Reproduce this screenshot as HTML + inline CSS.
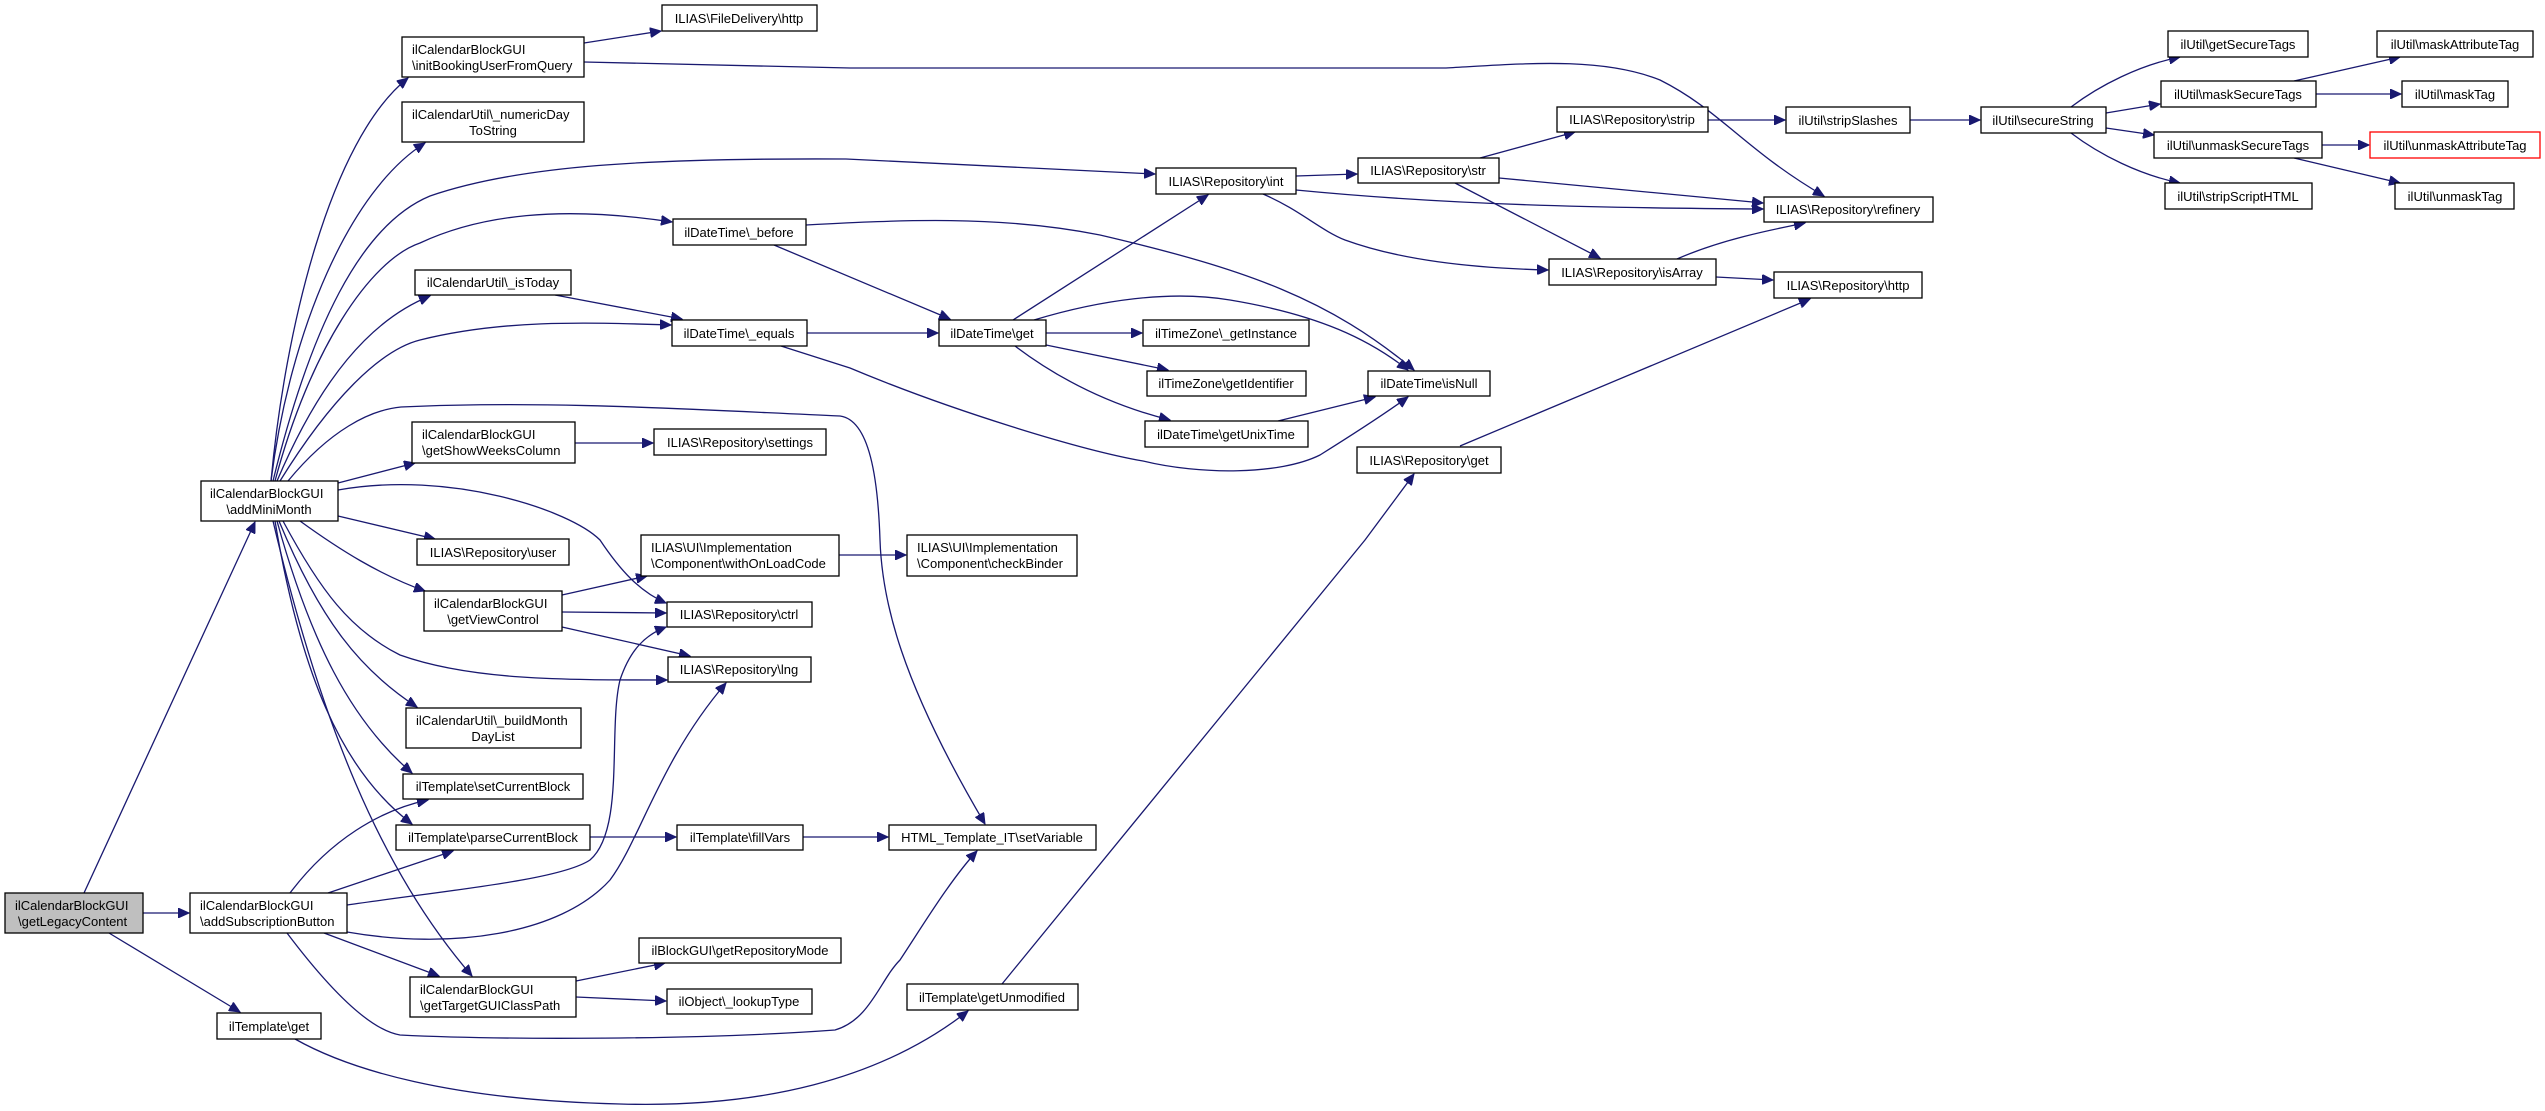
<!DOCTYPE html>
<html><head><meta charset="utf-8"><style>
html,body{margin:0;padding:0;background:#fff;}
svg{display:block;}
text{font-family:"Liberation Sans",sans-serif;font-size:13px;fill:#000;}
.n{fill:#fff;stroke:#000;stroke-width:1.3;}
.e{fill:none;stroke:#191970;stroke-width:1.3;marker-end:url(#ah);}
</style></head><body>
<svg width="2545" height="1111" viewBox="0 0 2545 1111" xmlns="http://www.w3.org/2000/svg">
<defs><marker id="ah" markerUnits="userSpaceOnUse" markerWidth="12" markerHeight="10" refX="11" refY="5" orient="auto"><path d="M0,0 L11,5 L0,10 z" fill="#191970" stroke="#191970"/></marker></defs>
<!-- edges -->
<path class="e" d="M84,893 L255,522"/>
<path class="e" d="M143,913 L189,913"/>
<path class="e" d="M109,933 L240,1012"/>
<path class="e" d="M295,1039 C350,1070 450,1100 620,1104 C760,1108 880,1080 968,1011"/>
<path class="e" d="M271,481 C285,330 330,140 408,78"/>
<path class="e" d="M271,481 C290,330 350,190 425,143"/>
<path class="e" d="M273,481 C310,330 360,225 430,196 C520,165 650,158 846,159 L1155,174"/>
<path class="e" d="M275,481 C310,350 370,260 420,243 C480,215 560,205 672,222"/>
<path class="e" d="M277,481 C320,380 370,320 430,296"/>
<path class="e" d="M280,481 C330,400 380,350 420,340 C500,320 580,322 671,325"/>
<path class="e" d="M288,481 C330,430 370,410 401,407 C550,400 700,410 840,416 C870,420 878,480 880,540 C882,600 900,680 985,824"/>
<path class="e" d="M338,483 L415,463"/>
<path class="e" d="M338,490 C450,470 570,510 600,540 C620,570 640,592 666,603"/>
<path class="e" d="M338,516 L435,539"/>
<path class="e" d="M300,521 C340,550 380,575 425,591"/>
<path class="e" d="M283,521 C320,590 350,630 400,655 C470,680 560,680 667,680"/>
<path class="e" d="M279,521 C320,620 360,670 417,707"/>
<path class="e" d="M277,521 C310,640 350,720 412,773"/>
<path class="e" d="M275,521 C300,670 340,770 412,824"/>
<path class="e" d="M273,521 C320,720 380,870 472,976"/>
<path class="e" d="M290,893 C330,840 380,810 428,800"/>
<path class="e" d="M328,893 L453,851"/>
<path class="e" d="M347,905 C450,890 560,880 590,860 C625,830 608,730 620,680 C630,650 645,635 666,627"/>
<path class="e" d="M347,932 C450,950 560,935 610,880 C640,840 660,760 726,683"/>
<path class="e" d="M324,933 L439,976"/>
<path class="e" d="M287,933 C330,990 370,1030 400,1035 C500,1040 700,1040 835,1030 C870,1020 880,980 900,960 C920,930 950,880 977,851"/>
<path class="e" d="M562,595 L647,576"/>
<path class="e" d="M562,612 L666,613"/>
<path class="e" d="M562,627 L690,656"/>
<path class="e" d="M575,443 L653,443"/>
<path class="e" d="M555,295 L682,319"/>
<path class="e" d="M774,245 L950,319"/>
<path class="e" d="M806,225 C900,220 1000,215 1100,235 C1250,270 1330,300 1414,370"/>
<path class="e" d="M807,333 L938,333"/>
<path class="e" d="M781,346 L850,368 C950,410 1080,450 1143,461 C1200,475 1280,475 1320,455 C1360,430 1390,410 1408,397"/>
<path class="e" d="M584,43 L661,31"/>
<path class="e" d="M584,62 L850,68 L1446,68 C1520,64 1600,56 1660,80 C1720,110 1745,150 1824,196"/>
<path class="e" d="M1296,176 L1357,174"/>
<path class="e" d="M1296,190 C1450,205 1600,208 1763,209"/>
<path class="e" d="M1263,194 C1300,210 1320,230 1345,240 C1400,260 1470,268 1548,270"/>
<path class="e" d="M1480,158 L1575,132"/>
<path class="e" d="M1499,178 L1763,203"/>
<path class="e" d="M1455,183 L1600,258"/>
<path class="e" d="M1708,120 L1785,120"/>
<path class="e" d="M1910,120 L1980,120"/>
<path class="e" d="M1677,259 C1720,240 1770,230 1805,223"/>
<path class="e" d="M1716,277 L1773,280"/>
<path class="e" d="M1460,446 L1810,299"/>
<path class="e" d="M1002,984 L1365,540 L1414,474"/>
<path class="e" d="M1013,320 L1208,195"/>
<path class="e" d="M1034,320 C1100,300 1170,290 1230,300 C1320,315 1370,340 1408,370"/>
<path class="e" d="M1046,333 L1142,333"/>
<path class="e" d="M1046,345 L1168,370"/>
<path class="e" d="M1015,346 C1060,380 1110,405 1170,420"/>
<path class="e" d="M1278,421 L1375,397"/>
<path class="e" d="M839,555 L906,555"/>
<path class="e" d="M590,837 L676,837"/>
<path class="e" d="M803,837 L888,837"/>
<path class="e" d="M576,981 L665,963"/>
<path class="e" d="M576,997 L666,1001"/>
<path class="e" d="M2071,107 C2100,85 2140,65 2180,57"/>
<path class="e" d="M2106,113 L2160,104"/>
<path class="e" d="M2106,128 L2154,135"/>
<path class="e" d="M2071,133 C2100,155 2140,175 2180,183"/>
<path class="e" d="M2294,81 L2400,57"/>
<path class="e" d="M2316,94 L2401,94"/>
<path class="e" d="M2322,145 L2369,145"/>
<path class="e" d="M2294,158 L2400,183"/>
<!-- nodes -->
<rect x="5" y="893" width="138" height="40" fill="#bfbfbf" stroke="#000" stroke-width="1.3"/><text x="15" y="910">ilCalendarBlockGUI</text><text x="18" y="926">\getLegacyContent</text>
<rect class="n" x="201" y="481" width="137" height="40"/><text x="210" y="498">ilCalendarBlockGUI</text><text x="269" y="514" text-anchor="middle">\addMiniMonth</text>
<rect class="n" x="190" y="893" width="157" height="40"/><text x="200" y="910">ilCalendarBlockGUI</text><text x="200" y="926">\addSubscriptionButton</text>
<rect class="n" x="217" y="1013" width="104" height="26"/><text x="269" y="1031" text-anchor="middle">ilTemplate\get</text>
<rect class="n" x="402" y="37" width="182" height="40"/><text x="412" y="54">ilCalendarBlockGUI</text><text x="412" y="70">\initBookingUserFromQuery</text>
<rect class="n" x="402" y="102" width="182" height="40"/><text x="412" y="119">ilCalendarUtil\_numericDay</text><text x="493" y="135" text-anchor="middle">ToString</text>
<rect class="n" x="673" y="219" width="133" height="26"/><text x="739" y="237" text-anchor="middle">ilDateTime\_before</text>
<rect class="n" x="415" y="270" width="156" height="25"/><text x="493" y="287" text-anchor="middle">ilCalendarUtil\_isToday</text>
<rect class="n" x="672" y="320" width="135" height="26"/><text x="739" y="338" text-anchor="middle">ilDateTime\_equals</text>
<rect class="n" x="412" y="422" width="163" height="41"/><text x="422" y="439">ilCalendarBlockGUI</text><text x="422" y="455">\getShowWeeksColumn</text>
<rect class="n" x="654" y="429" width="172" height="26"/><text x="740" y="447" text-anchor="middle">ILIAS\Repository\settings</text>
<rect class="n" x="417" y="539" width="152" height="26"/><text x="493" y="557" text-anchor="middle">ILIAS\Repository\user</text>
<rect class="n" x="641" y="535" width="198" height="41"/><text x="651" y="552">ILIAS\UI\Implementation</text><text x="651" y="568">\Component\withOnLoadCode</text>
<rect class="n" x="424" y="591" width="138" height="40"/><text x="434" y="608">ilCalendarBlockGUI</text><text x="493" y="624" text-anchor="middle">\getViewControl</text>
<rect class="n" x="667" y="602" width="145" height="25"/><text x="739" y="619" text-anchor="middle">ILIAS\Repository\ctrl</text>
<rect class="n" x="668" y="657" width="143" height="25"/><text x="739" y="674" text-anchor="middle">ILIAS\Repository\lng</text>
<rect class="n" x="406" y="708" width="175" height="40"/><text x="416" y="725">ilCalendarUtil\_buildMonth</text><text x="493" y="741" text-anchor="middle">DayList</text>
<rect class="n" x="403" y="774" width="180" height="25"/><text x="493" y="791" text-anchor="middle">ilTemplate\setCurrentBlock</text>
<rect class="n" x="396" y="825" width="194" height="25"/><text x="493" y="842" text-anchor="middle">ilTemplate\parseCurrentBlock</text>
<rect class="n" x="677" y="825" width="126" height="25"/><text x="740" y="842" text-anchor="middle">ilTemplate\fillVars</text>
<rect class="n" x="639" y="938" width="202" height="25"/><text x="740" y="955" text-anchor="middle">ilBlockGUI\getRepositoryMode</text>
<rect class="n" x="410" y="977" width="166" height="40"/><text x="420" y="994">ilCalendarBlockGUI</text><text x="420" y="1010">\getTargetGUIClassPath</text>
<rect class="n" x="667" y="989" width="145" height="25"/><text x="739" y="1006" text-anchor="middle">ilObject\_lookupType</text>
<rect class="n" x="662" y="5" width="155" height="26"/><text x="739" y="23" text-anchor="middle">ILIAS\FileDelivery\http</text>
<rect class="n" x="1156" y="168" width="140" height="26"/><text x="1226" y="186" text-anchor="middle">ILIAS\Repository\int</text>
<rect class="n" x="1358" y="158" width="141" height="25"/><text x="1428" y="175" text-anchor="middle">ILIAS\Repository\str</text>
<rect class="n" x="1557" y="107" width="151" height="25"/><text x="1632" y="124" text-anchor="middle">ILIAS\Repository\strip</text>
<rect class="n" x="1549" y="259" width="167" height="26"/><text x="1632" y="277" text-anchor="middle">ILIAS\Repository\isArray</text>
<rect class="n" x="939" y="320" width="107" height="26"/><text x="992" y="338" text-anchor="middle">ilDateTime\get</text>
<rect class="n" x="1143" y="320" width="166" height="26"/><text x="1226" y="338" text-anchor="middle">ilTimeZone\_getInstance</text>
<rect class="n" x="1147" y="371" width="159" height="25"/><text x="1226" y="388" text-anchor="middle">ilTimeZone\getIdentifier</text>
<rect class="n" x="1368" y="371" width="122" height="25"/><text x="1429" y="388" text-anchor="middle">ilDateTime\isNull</text>
<rect class="n" x="1145" y="421" width="163" height="26"/><text x="1226" y="439" text-anchor="middle">ilDateTime\getUnixTime</text>
<rect class="n" x="1357" y="447" width="144" height="26"/><text x="1429" y="465" text-anchor="middle">ILIAS\Repository\get</text>
<rect class="n" x="907" y="535" width="170" height="41"/><text x="917" y="552">ILIAS\UI\Implementation</text><text x="917" y="568">\Component\checkBinder</text>
<rect class="n" x="889" y="825" width="207" height="25"/><text x="992" y="842" text-anchor="middle">HTML_Template_IT\setVariable</text>
<rect class="n" x="907" y="984" width="171" height="26"/><text x="992" y="1002" text-anchor="middle">ilTemplate\getUnmodified</text>
<rect class="n" x="1786" y="107" width="124" height="26"/><text x="1848" y="125" text-anchor="middle">ilUtil\stripSlashes</text>
<rect class="n" x="1764" y="197" width="169" height="25"/><text x="1848" y="214" text-anchor="middle">ILIAS\Repository\refinery</text>
<rect class="n" x="1774" y="272" width="148" height="26"/><text x="1848" y="290" text-anchor="middle">ILIAS\Repository\http</text>
<rect class="n" x="1981" y="107" width="125" height="26"/><text x="2043" y="125" text-anchor="middle">ilUtil\secureString</text>
<rect class="n" x="2168" y="31" width="140" height="26"/><text x="2238" y="49" text-anchor="middle">ilUtil\getSecureTags</text>
<rect class="n" x="2161" y="81" width="155" height="26"/><text x="2238" y="99" text-anchor="middle">ilUtil\maskSecureTags</text>
<rect class="n" x="2154" y="132" width="168" height="26"/><text x="2238" y="150" text-anchor="middle">ilUtil\unmaskSecureTags</text>
<rect class="n" x="2165" y="183" width="147" height="26"/><text x="2238" y="201" text-anchor="middle">ilUtil\stripScriptHTML</text>
<rect class="n" x="2377" y="31" width="156" height="26"/><text x="2455" y="49" text-anchor="middle">ilUtil\maskAttributeTag</text>
<rect class="n" x="2402" y="81" width="106" height="26"/><text x="2455" y="99" text-anchor="middle">ilUtil\maskTag</text>
<rect x="2370" y="132" width="170" height="26" fill="#fff" stroke="#ff0000" stroke-width="1.3"/><text x="2455" y="150" text-anchor="middle">ilUtil\unmaskAttributeTag</text>
<rect class="n" x="2395" y="183" width="119" height="26"/><text x="2455" y="201" text-anchor="middle">ilUtil\unmaskTag</text>
</svg>
</body></html>
